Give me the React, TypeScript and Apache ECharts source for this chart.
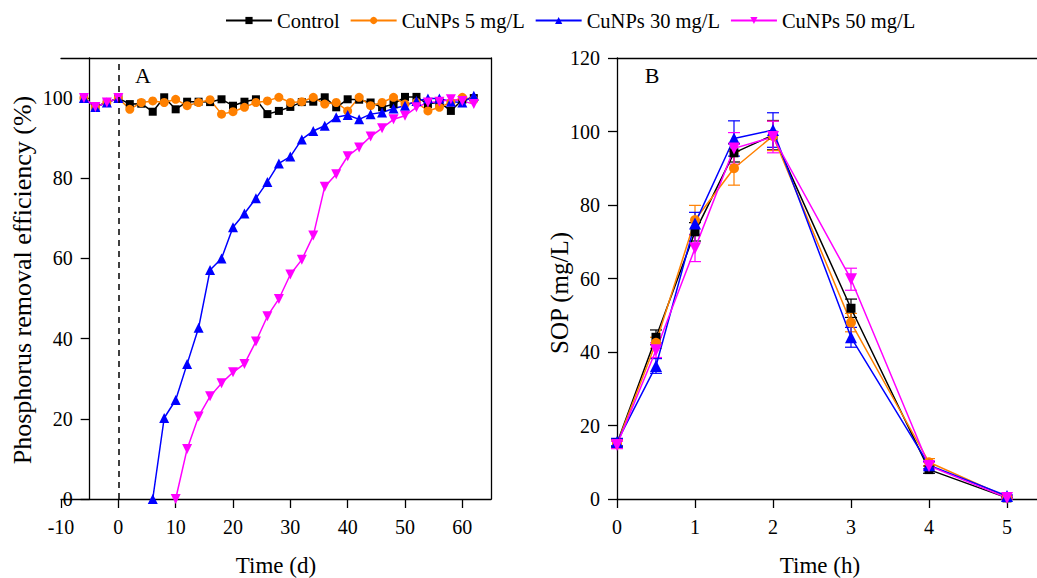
import React, { useEffect, useRef } from "react";
import * as echarts from "echarts";

// ---------- Panel A: phosphorus removal efficiency vs time (d) ----------
const tA = [-6, -4, -2, 0, 2, 4, 6, 8, 10, 12, 14, 16, 18, 20, 22, 24, 26, 28, 30, 32, 34, 36, 38, 40, 42, 44, 46, 48, 50, 52, 54, 56, 58, 60, 62];
const controlA = [100, 97.8, 98.9, 100, 98.5, 98.6, 96.6, 100.2, 97.2, 99.1, 99.1, 99.0, 99.7, 98.1, 99.1, 99.7, 96.0, 96.8, 97.8, 99.0, 99.1, 100.2, 97.7, 99.7, 99.6, 98.9, 97.7, 98.5, 100.3, 100.3, 98.5, 99.0, 96.8, 99.6, 100.0];
const cu5A = [100, 97.8, 98.9, 100, 97.2, 98.9, 99.3, 98.9, 99.7, 98.1, 98.9, 99.6, 96.0, 96.6, 97.7, 98.9, 99.3, 100.2, 98.9, 99.1, 100.2, 98.5, 98.9, 96.8, 100.2, 98.1, 98.9, 100.2, 98.5, 98.9, 96.8, 97.7, 98.9, 100.2, 99.6];
const tA30 = [-6, -4, -2, 0, 3, 6, 8, 10, 12, 14, 16, 18, 20, 22, 24, 26, 28, 30, 32, 34, 36, 38, 40, 42, 44, 46, 48, 50, 52, 54, 56, 58, 60, 62];
const cu30A: (number | string)[] = [100, 97.8, 98.9, 100, "-", 0, 20.2, 24.7, 33.7, 42.7, 57.1, 60, 67.8, 71.2, 75, 79.1, 83.7, 85.4, 89.7, 91.8, 93.1, 95.2, 95.8, 94.7, 96.0, 96.4, 97.4, 98.1, 99.3, 99.9, 99.9, 99.1, 98.9, 100.6];
const tA50 = [-6, -4, -2, 0, 5, 10, 12, 14, 16, 18, 20, 22, 24, 26, 28, 30, 32, 34, 36, 38, 40, 42, 44, 46, 48, 50, 52, 54, 56, 58, 60, 62];
const cu50A: (number | string)[] = [100, 97.8, 98.9, 100, "-", 0, 12.5, 20.6, 25.6, 28.9, 31.6, 33.7, 39.3, 45.6, 49.9, 56, 59.7, 65.7, 77.9, 81, 85.5, 87.7, 90.4, 92.5, 94.7, 95.6, 97.7, 98.9, 99.1, 99.7, 99.3, 98.5];
const xTicksA = [-10, 0, 10, 20, 30, 40, 50, 60];
const yTicksA = [0, 20, 40, 60, 80, 100];

// ---------- Panel B: SOP vs time (h) ----------
const hB = [0, 0.5, 1, 1.5, 2, 3, 4, 5];
const controlB = [15.2, 44.0, 72.7, 94.2, 99.0, 51.9, 8.0, 0.3];
const controlBErr = [1, 2, 2.5, 2.5, 4, 2.5, 1, 0.3];
const cu5B = [15.0, 42.5, 75.9, 90.0, 98.8, 48.0, 10.0, 0.5];
const cu5BErr = [1, 1.5, 4, 4.6, 4, 2.5, 1, 0.3];
const cu30B = [15.5, 36.2, 75.0, 98.1, 100.4, 44.0, 9.2, 0.8];
const cu30BErr = [1, 2, 3, 4.8, 4.7, 2.7, 1, 0.3];
const cu50B = [14.7, 40.5, 68.2, 95.4, 98.5, 59.8, 9.0, 0.3];
const cu50BErr = [1, 2, 3.6, 4.3, 4.3, 3, 1, 0.3];
const xTicksB = [0, 1, 2, 3, 4, 5];
const yTicksB = [0, 20, 40, 60, 80, 100, 120];

const names = ["Control", "CuNPs 5 mg/L", "CuNPs 30 mg/L", "CuNPs 50 mg/L"];
const colors = ["#000000", "#FF8000", "#0000FF", "#FF00FF"];
const symbols = ["rect", "circle", "triangle", "triangle"];
const rotates = [0, 0, 0, 180];

const FONT = "'Liberation Serif', 'Times New Roman', serif";

const gridA = { left: 61, top: 58, width: 430, height: 441 };
const gridB = { left: 617, top: 58, width: 420, height: 441 };
const xMinA = -10, xMaxA = 65;
const xMaxB = 420 / 78;

export default function App() {
  const ref = useRef<HTMLDivElement>(null);
  useEffect(() => {
    if (!ref.current) return;
    const chart = echarts.init(ref.current, null, { renderer: "svg" });
    const pxPerUnitA = gridA.width / (xMaxA - xMinA);

    const labelStyle = { color: "#000", fontFamily: FONT, fontSize: 20 };
    const lineStyle = { color: "#000", width: 1.3 };
    const frameAxis = (extra: any) => ({
      type: "value",
      axisLine: { show: true, onZero: false, lineStyle },
      axisTick: { show: false },
      axisLabel: { show: false },
      splitLine: { show: false },
      ...extra,
    });

    const pair = (xs: number[], ys: any[]) => xs.map((x, i) => [x, ys[i]]);
    const seriesA = [
      pair(tA, controlA),
      pair(tA, cu5A),
      pair(tA30, cu30A),
      pair(tA50, cu50A),
    ];
    const seriesB = [controlB, cu5B, cu30B, cu50B];
    const errB = [controlBErr, cu5BErr, cu30BErr, cu50BErr];
    const symSizeA = [8, 9, 10, 10];
    const symSizeB = [9, 10, 12, 12];

    const series: any[] = [];
    seriesA.forEach((d, i) => {
      series.push({
        type: "line",
        name: names[i],
        xAxisIndex: 0,
        yAxisIndex: 0,
        data: d,
        symbol: symbols[i],
        symbolRotate: rotates[i],
        symbolSize: symSizeA[i],
        color: colors[i],
        lineStyle: { width: 1.5, color: colors[i] },
        itemStyle: { color: colors[i] },
        connectNulls: false,
        ...(i === 0
          ? {
              markLine: {
                silent: true,
                symbol: ["none", "none"],
                label: { show: false },
                lineStyle: { type: [6, 5], color: "#000", width: 1.5 },
                data: [{ xAxis: 0 }],
              },
            }
          : {}),
      });
    });
    seriesB.forEach((d, i) => {
      series.push({
        type: "custom",
        xAxisIndex: 2,
        yAxisIndex: 2,
        data: hB.map((h, j) => [h, d[j] - errB[i][j], d[j] + errB[i][j]]),
        encode: { x: 0, y: [1, 2] },
        renderItem: (params: any, api: any) => {
          const x = api.value(0);
          const lo = api.coord([x, api.value(1)]);
          const hi = api.coord([x, api.value(2)]);
          const w = 6;
          const st = { stroke: colors[i], lineWidth: 1.2 };
          return {
            type: "group",
            children: [
              { type: "line", shape: { x1: hi[0], y1: hi[1], x2: lo[0], y2: lo[1] }, style: st },
              { type: "line", shape: { x1: hi[0] - w, y1: hi[1], x2: hi[0] + w, y2: hi[1] }, style: st },
              { type: "line", shape: { x1: lo[0] - w, y1: lo[1], x2: lo[0] + w, y2: lo[1] }, style: st },
            ],
          };
        },
        z: 3,
      });
      series.push({
        type: "line",
        name: names[i],
        xAxisIndex: 2,
        yAxisIndex: 2,
        data: pair(hB, d),
        symbol: symbols[i],
        symbolRotate: rotates[i],
        symbolSize: symSizeB[i],
        color: colors[i],
        lineStyle: { width: 1.5, color: colors[i] },
        itemStyle: { color: colors[i] },
        z: 4,
      });
    });

    chart.setOption({
      animation: false,
      backgroundColor: "#fff",
      textStyle: { fontFamily: FONT },
      legend: {
        data: names,
        left: 220,
        top: 5,
        itemWidth: 46,
        itemHeight: 9,
        itemGap: 10,
        textStyle: { color: "#000", fontFamily: FONT, fontSize: 20.5 },
      },
      grid: [
        { ...gridA, outerBoundsMode: "none", containLabel: false },
        { ...gridB, outerBoundsMode: "none", containLabel: false },
      ],
      xAxis: [
        {
          type: "value",
          gridIndex: 0,
          min: xMinA,
          max: xMaxA,
          interval: 10,
          axisLine: { show: true, onZero: false, lineStyle },
          axisTick: { show: true, length: 9, lineStyle, customValues: xTicksA },
          axisLabel: { ...labelStyle, margin: 18, customValues: xTicksA },
          splitLine: { show: false },
        },
        frameAxis({ gridIndex: 0, position: "top", min: xMinA, max: xMaxA }),
        {
          type: "value",
          gridIndex: 1,
          min: 0,
          max: xMaxB,
          interval: 1,
          axisLine: { show: true, onZero: false, lineStyle },
          axisTick: { show: true, length: 9, lineStyle, customValues: xTicksB },
          axisLabel: { ...labelStyle, margin: 18, customValues: xTicksB },
          splitLine: { show: false },
        },
        frameAxis({ gridIndex: 1, position: "top", min: 0, max: xMaxB }),
      ],
      yAxis: [
        {
          type: "value",
          gridIndex: 0,
          position: "left",
          offset: -5 * pxPerUnitA,
          min: 0,
          max: 110,
          interval: 20,
          axisLine: { show: true, onZero: false, lineStyle },
          axisTick: { show: true, length: 9, lineStyle, customValues: yTicksA },
          axisLabel: { ...labelStyle, margin: 17, customValues: yTicksA },
          splitLine: { show: false },
        },
        frameAxis({ gridIndex: 0, position: "right", min: 0, max: 110 }),
        {
          type: "value",
          gridIndex: 1,
          position: "left",
          min: 0,
          max: 120,
          interval: 20,
          axisLine: { show: true, onZero: false, lineStyle },
          axisTick: { show: true, length: 9, lineStyle, customValues: yTicksB },
          axisLabel: { ...labelStyle, margin: 17, customValues: yTicksB },
          splitLine: { show: false },
        },
      ],
      graphic: [
        { type: "text", x: 143, y: 75, style: { text: "A", fontFamily: FONT, fontSize: 22, fill: "#000", align: "center", verticalAlign: "middle" } },
        { type: "text", x: 652, y: 75, style: { text: "B", fontFamily: FONT, fontSize: 22, fill: "#000", align: "center", verticalAlign: "middle" } },
        { type: "text", x: 276, y: 565, style: { text: "Time (d)", fontFamily: FONT, fontSize: 23, fill: "#000", align: "center", verticalAlign: "middle" } },
        { type: "text", x: 820, y: 565, style: { text: "Time (h)", fontFamily: FONT, fontSize: 23, fill: "#000", align: "center", verticalAlign: "middle" } },
        { type: "text", x: 22, y: 280, rotation: Math.PI / 2, style: { text: "Phosphorus removal efficiency (%)", fontFamily: FONT, fontSize: 26, fill: "#000", align: "center", verticalAlign: "middle" } },
        { type: "text", x: 559, y: 293, rotation: Math.PI / 2, style: { text: "SOP (mg/L)", fontFamily: FONT, fontSize: 25, fill: "#000", align: "center", verticalAlign: "middle" } },
      ],
      series,
    });
    return () => chart.dispose();
  }, []);
  return (
    <div
      ref={ref}
      style={{ position: "fixed", left: 0, top: 0, width: 1037, height: 578, background: "#fff" }}
    />
  );
}
